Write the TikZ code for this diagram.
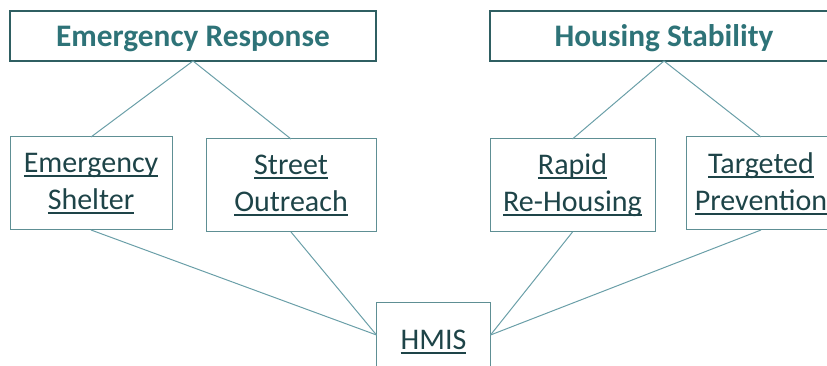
\documentclass[tikz,border=0pt]{standalone}
\usepackage{fontspec}
\setmainfont{Carlito}
\definecolor{titlecol}{HTML}{2E7378}
\definecolor{topborder}{HTML}{2F5F62}
\definecolor{boxborder}{HTML}{5E8F94}
\definecolor{bodytext}{HTML}{1E4448}
\definecolor{linkcol}{HTML}{6A9FA8}
\newcommand\myul[1]{\setbox0\hbox{#1}\leavevmode\rlap{\rule[-3.2pt]{\wd0}{1.4pt}}\box0}
\newcommand\lowered[2]{\raisebox{-#1}[\height][\depth]{#2}}
\tikzset{
  titlebox/.style={draw=topborder, line width=1.1pt, inner sep=0pt, outer sep=0pt,
    minimum height=37.5pt, text=titlecol,
    font=\fontsize{23.5}{27}\selectfont\bfseries},
  itembox/.style={draw=boxborder, line width=0.75pt, inner sep=0pt, outer sep=0pt,
    minimum height=69.75pt, text=bodytext, align=center,
    font=\fontsize{22.5}{27.75}\selectfont},
  link/.style={draw=linkcol, line width=0.75pt}
}
\begin{document}
\begin{tikzpicture}[x=0.75pt,y=0.75pt]
\useasboundingbox (0,0) rectangle (827,366);
\clip (0,0) rectangle (827,366);
\node[titlebox, minimum width=274.5pt] (er) at (193,330) {\lowered{2pt}{Emergency Response}};
\node[titlebox, minimum width=261pt] (hs) at (664,330) {\lowered{2pt}{Housing Stability}};
\node[itembox, minimum width=121.5pt] (es) at (91,182.5) {\myul{Emergency}\\\myul{Shelter}};
\node[itembox, minimum width=127.5pt] (so) at (291,180.5) {\myul{Street}\\\myul{Outreach}};
\node[itembox, minimum width=123.75pt] (rrh) at (572.5,180.5) {\myul{Rapid}\\\myul{Re-Housing}};
\node[itembox, minimum width=112.5pt] (tp) at (761,182.5) {\myul{Targeted}\\\myul{Prevention}};
\node[itembox, minimum width=85.5pt, minimum height=48.5pt] (hmis) at (433.5,31) {\lowered{5pt}{\myul{HMIS}}};
\draw[link] (er.south) -- (es.north);
\draw[link] (er.south) -- (so.north);
\draw[link] (hs.south) -- (rrh.north);
\draw[link] (hs.south) -- (tp.north);
\draw[link] (es.south) -- (hmis.west);
\draw[link] (so.south) -- (hmis.west);
\draw[link] (rrh.south) -- (hmis.east);
\draw[link] (tp.south) -- (hmis.east);
\end{tikzpicture}
\end{document}
